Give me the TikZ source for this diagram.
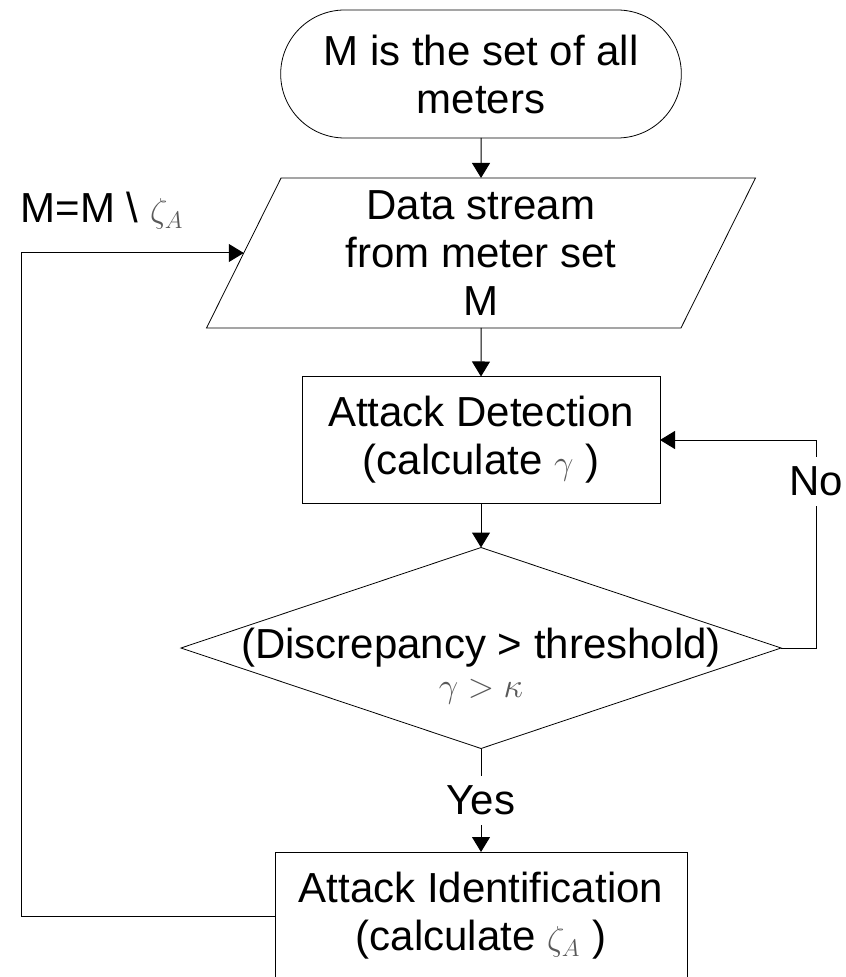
\documentclass[tikz,border=0pt]{standalone}
\usepackage{fontspec}
\setmainfont{Liberation Sans}
\usetikzlibrary{shapes.geometric,shapes.misc,arrows.meta}
\newcommand{\mgray}[1]{{\color{black!65}\fontsize{16.5}{16.5}\selectfont$#1$}}

\begin{document}
\begin{tikzpicture}[x=0.5pt,y=-0.5pt,
	every node/.style={font=\fontsize{21}{24}\selectfont,align=center,outer sep=0pt},
	terminal/.style={draw,rounded rectangle,minimum width=207pt,minimum height=64pt},
	io/.style={draw,trapezium,trapezium left angle=63.4,trapezium right angle=116.6,
		trapezium stretches body,minimum width=274.5pt,minimum height=75pt,inner xsep=0pt,inner ysep=6pt},
	process/.style={draw,rectangle,minimum width=179pt,minimum height=63.5pt,inner sep=0pt},
	decision/.style={draw,diamond,shape aspect=3,minimum width=300pt,minimum height=100.5pt,inner sep=0pt},
	tag/.style={fill=white,inner xsep=2pt,inner ysep=5pt},
	flow/.style={-{Triangle[length=7.5pt,width=9pt]},line width=0.5pt}]
	\useasboundingbox (0,0) rectangle (845,977);
	\node[terminal] (start) at (481,74) {M is the set of all\\meters};
	\node[io] (stream) at (481,253) {Data stream\\from meter set\\M};
	\node[process] (detect) at (481,440) {Attack Detection\\(calculate \mgray{\gamma}\ )};
	\node[decision] (decide) at (481,648) {(Discrepancy > threshold)};
	\node (cond) at (481,692) {\mgray{\gamma>\kappa}};
	\node[process,minimum width=206pt,minimum height=64pt] (identify) at (481,916)
		{Attack Identification\\(calculate \mgray{\zeta_A}\ )};
	\node[anchor=base west] (update) at (14,223) {M=M \textbackslash\ \mgray{\zeta_A}};
	% main flow
	\draw[flow] (start.south) -- (stream.north);
	\draw[flow] (stream.south) -- (detect.north);
	\draw[flow] (detect.south) -- (decide.north);
	\draw[flow] (decide.south) -- node[tag] {Yes} (identify.north);
	% loops back
	\draw[flow] (decide.east) -- ++(35,0) |- node[tag,pos=0.4] {No} (detect.east);
	\draw[flow] (identify.west) -- ++(-254,0) |- (stream.west);
\end{tikzpicture}
\end{document}
